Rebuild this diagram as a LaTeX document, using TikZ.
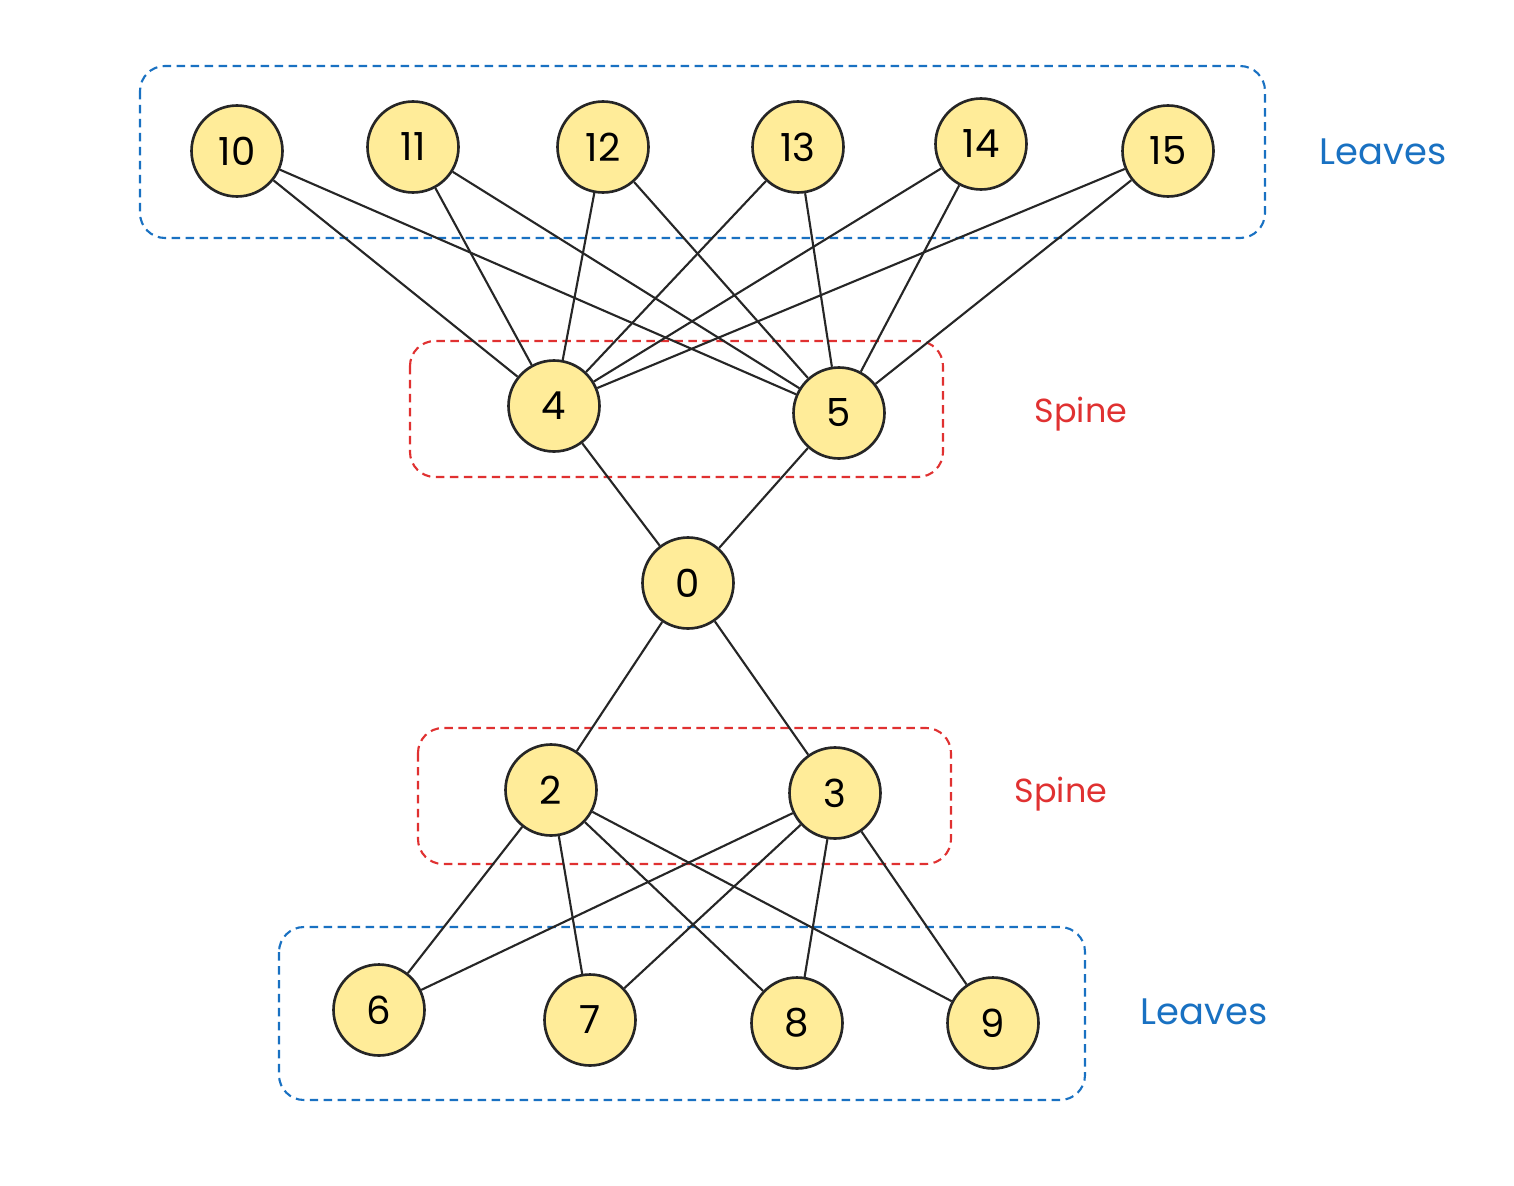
\documentclass[tikz,border=0pt]{standalone}
\usepackage{fontspec}
\setmainfont{Poppins}
\begin{document}
\begin{tikzpicture}[x=0.02cm,y=-0.02cm,
  nd/.style={circle,draw=black!85,line width=1.5pt,fill=yellowfill,minimum size=1.82cm,inner sep=0pt,font=\fontsize{22}{24}\selectfont},
  edge/.style={line width=1.2pt,draw=black!85},
  bluebox/.style={draw=boxblue,line width=1.2pt,rounded corners=0.5cm,dash pattern=on 0.17cm off 0.11cm},
  redbox/.style={draw=boxred,line width=1.2pt,rounded corners=0.5cm,dash pattern=on 0.17cm off 0.11cm},
  lbl/.style={font=\fontsize{21}{24}\selectfont}]
\definecolor{yellowfill}{HTML}{FFEC99}
\definecolor{boxblue}{HTML}{1971C2}
\definecolor{boxred}{HTML}{E03131}
\useasboundingbox (0,0) rectangle (1514,1186);
\fill[white] (0,0) rectangle (1514,1186);
% boxes
\draw[bluebox] (140,66) rectangle (1265,238);
\draw[redbox] (410,341) rectangle (943,477);
\draw[redbox] (418,728) rectangle (951,864);
\draw[bluebox] (279,927) rectangle (1085,1100);
% labels
\node[lbl,text=boxblue] (lt) at (1383,152) {Leaves};
\node[lbl,text=boxred,font=\fontsize{19}{22}\selectfont] (st) at (1081,414) {Spine};
\node[lbl,text=boxred,font=\fontsize{19}{22}\selectfont] (sb) at (1061,794) {Spine};
\node[lbl,text=boxblue] (lb) at (1204,1012) {Leaves};
% nodes
\node[nd] (n10) at (237,151) {10};
\node[nd] (n11) at (413,147) {11};
\node[nd] (n12) at (603,147) {12};
\node[nd] (n13) at (798,147) {13};
\node[nd] (n14) at (981,144) {14};
\node[nd] (n15) at (1168,151) {15};
\node[nd] (n4) at (554,406) {4};
\node[nd] (n5) at (839,413) {5};
\node[nd] (n0) at (688,583) {0};
\node[nd] (n2) at (551,790) {2};
\node[nd] (n3) at (835,793) {3};
\node[nd] (n6) at (379,1010) {6};
\node[nd] (n7) at (590,1020) {7};
\node[nd] (n8) at (797,1023) {8};
\node[nd] (n9) at (993,1023) {9};
% edges
\foreach \a in {n10,n11,n12,n13,n14,n15}{
  \draw[edge] (\a) -- (n4);
  \draw[edge] (\a) -- (n5);
}
\draw[edge] (n4) -- (n0);
\draw[edge] (n5) -- (n0);
\draw[edge] (n0) -- (n2);
\draw[edge] (n0) -- (n3);
\foreach \b in {n6,n7,n8,n9}{
  \draw[edge] (n2) -- (\b);
  \draw[edge] (n3) -- (\b);
}
\end{tikzpicture}
\end{document}
